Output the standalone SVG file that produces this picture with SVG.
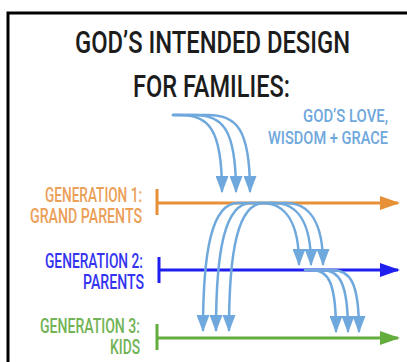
<svg xmlns="http://www.w3.org/2000/svg" width="407" height="362" viewBox="0 0 407 362">
  <style>
    .title { font-family: Roboto, "Liberation Sans", sans-serif; font-size: 32px; fill: #1c1c1c; font-weight: 500; }
    .lbl { font-family: Roboto, "Liberation Sans", sans-serif; font-size: 20px; font-weight: 500; text-anchor: end; }
    .gift { font-family: Roboto, "Liberation Sans", sans-serif; font-size: 18px; font-weight: 500; fill: #6fa8dc; }
    .flow { fill: none; stroke: #6fa8dc; stroke-width: 2.5; stroke-linecap: round; }
    .tl { fill: none; stroke-width: 3; }
  </style>
  <defs>
    <marker id="flowHead" markerUnits="userSpaceOnUse" markerWidth="17" markerHeight="13" refX="15" refY="6.5" orient="auto-start-reverse" viewBox="0 0 17 13">
      <path d="M0 0 L17 6.5 L0 13 Z" fill="#6fa8dc"/>
    </marker>
    <marker id="headOrange" markerUnits="userSpaceOnUse" markerWidth="20" markerHeight="14" refX="18" refY="7" orient="auto" viewBox="0 0 20 14">
      <path d="M0 0 L20 7 L0 14 Z" fill="#e69138"/>
    </marker>
    <marker id="headBlue" markerUnits="userSpaceOnUse" markerWidth="20" markerHeight="14" refX="18" refY="7" orient="auto" viewBox="0 0 20 14">
      <path d="M0 0 L20 7 L0 14 Z" fill="#1f1ff0"/>
    </marker>
    <marker id="headGreen" markerUnits="userSpaceOnUse" markerWidth="20" markerHeight="14" refX="18" refY="7" orient="auto" viewBox="0 0 20 14">
      <path d="M0 0 L20 7 L0 14 Z" fill="#62ad3e"/>
    </marker>
  </defs>

  <rect width="407" height="362" fill="#ffffff"/>
  <!-- frame -->
  <path d="M8 370 V13 H420" fill="none" stroke="#000" stroke-width="3"/>

  <g id="title">
    <text class="title" x="75" y="53" textLength="275" lengthAdjust="spacingAndGlyphs">GOD’S INTENDED DESIGN</text>
    <text class="title" x="133" y="97" textLength="157" lengthAdjust="spacingAndGlyphs">FOR FAMILIES:</text>
  </g>

  <g id="gifts">
    <text class="gift" x="303" y="122" textLength="85" lengthAdjust="spacingAndGlyphs">GOD’S LOVE,</text>
    <text class="gift" x="268" y="144" textLength="120" lengthAdjust="spacingAndGlyphs">WISDOM + GRACE</text>
  </g>

  <g id="generation1">
    <text class="lbl" x="142" y="202" fill="#eba058" textLength="97" lengthAdjust="spacingAndGlyphs">GENERATION 1:</text>
    <text class="lbl" x="142" y="223" fill="#eba058" textLength="112" lengthAdjust="spacingAndGlyphs">GRAND PARENTS</text>
    <path class="tl" stroke="#e69138" d="M157 189 V215 M157 203 H398" marker-end="url(#headOrange)"/>
  </g>

  <g id="generation2">
    <text class="lbl" x="143" y="268" fill="#3434f0" textLength="98" lengthAdjust="spacingAndGlyphs">GENERATION 2:</text>
    <text class="lbl" x="144" y="289" fill="#3434f0" textLength="61" lengthAdjust="spacingAndGlyphs">PARENTS</text>
    <path class="tl" stroke="#1f1ff0" d="M159 257 V283 M159 270 H398" marker-end="url(#headBlue)"/>
  </g>

  <g id="generation3">
    <text class="lbl" x="140" y="333" fill="#72b356" textLength="100" lengthAdjust="spacingAndGlyphs">GENERATION 3:</text>
    <text class="lbl" x="140" y="354" fill="#72b356" textLength="30" lengthAdjust="spacingAndGlyphs">KIDS</text>
    <path class="tl" stroke="#62ad3e" d="M157 324 V350 M157 338 H398" marker-end="url(#headGreen)"/>
  </g>

  <g id="connectors">
    <!-- gifts falling on generation 1 -->
    <path class="flow" d="M173 115 H180 C208 115 222 128 222 191" marker-end="url(#flowHead)"/>
    <path class="flow" d="M173 115 H194 C222 115 236 128 236 191" marker-end="url(#flowHead)"/>
    <path class="flow" d="M173 115 H208 C236 115 250 128 250 191" marker-end="url(#flowHead)"/>
    <!-- generation 1 passing on to kids and parents -->
    <path class="flow" d="M203 330 C203 250 212 203 238 203 H262 C285 203 299 222 299 264" marker-start="url(#flowHead)" marker-end="url(#flowHead)"/>
    <path class="flow" d="M216 330 C216 250 225 203 251 203 H274 C297 203 311 222 311 264" marker-start="url(#flowHead)" marker-end="url(#flowHead)"/>
    <path class="flow" d="M229 330 C229 250 238 203 264 203 H286 C309 203 323 222 323 264" marker-start="url(#flowHead)" marker-end="url(#flowHead)"/>
    <!-- generation 2 passing on to kids -->
    <path class="flow" d="M305 270 H312 C328 270 336 282 336 331" marker-end="url(#flowHead)"/>
    <path class="flow" d="M312 270 H322 C339 270 348 282 348 331" marker-end="url(#flowHead)"/>
    <path class="flow" d="M318 270 H332 C350 270 359 282 359 331" marker-end="url(#flowHead)"/>
  </g>
</svg>
